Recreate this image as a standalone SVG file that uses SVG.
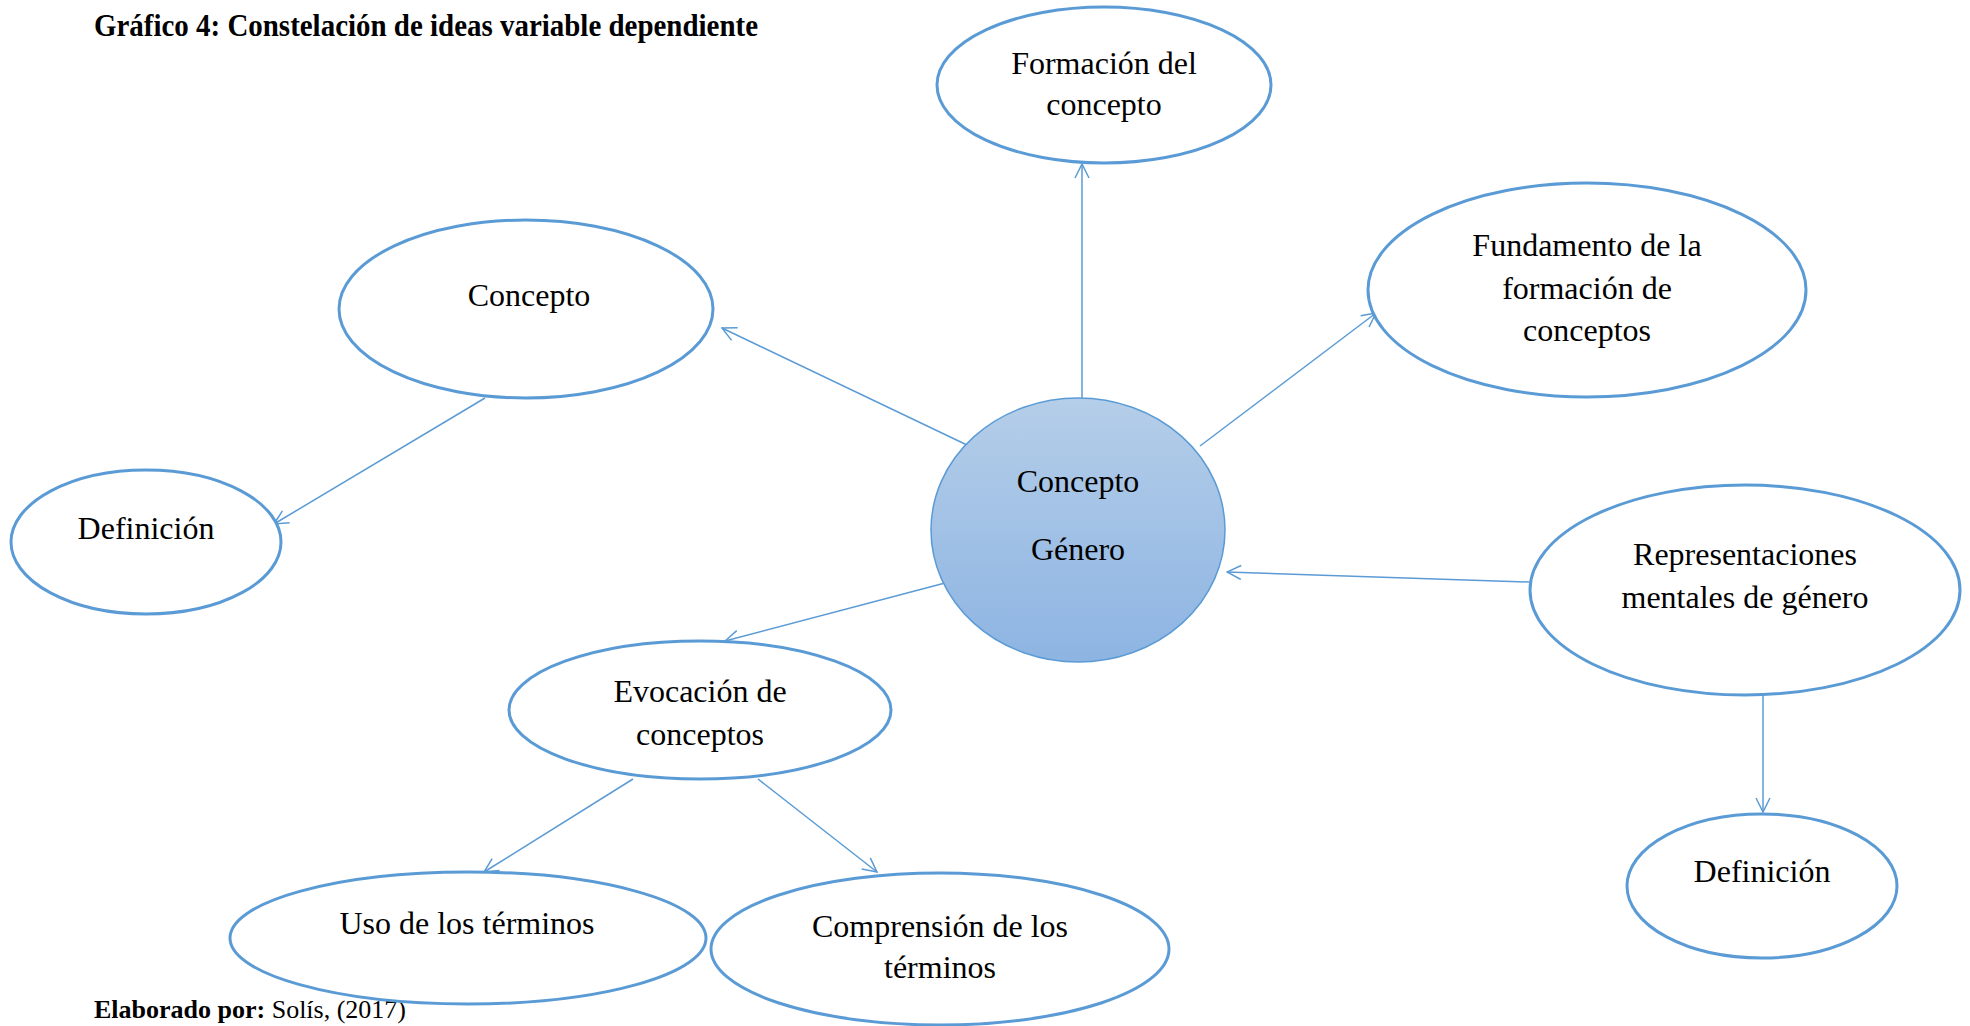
<svg xmlns="http://www.w3.org/2000/svg" width="1970" height="1026" viewBox="0 0 1970 1026">
<style>
.node{fill:#ffffff;stroke:#5b9bd5;stroke-width:3}
.lbl{font-family:"Liberation Serif","Times New Roman",serif;font-size:32px;fill:#000;text-anchor:middle}
.conn{stroke:#5b9bd5;stroke-width:1.5;fill:none;marker-end:url(#arr)}
.cap{font-family:"Liberation Serif","Times New Roman",serif;fill:#000}
</style>
<defs>
<marker id="arr" viewBox="0 0 16 16" refX="15" refY="8" markerWidth="16" markerHeight="16" markerUnits="userSpaceOnUse" orient="auto">
<path d="M1,1 L15,8 L1,15" fill="none" stroke="#5b9bd5" stroke-width="1.5"/>
</marker>
<linearGradient id="grad" x1="0" y1="0" x2="0" y2="1">
<stop offset="0" stop-color="#b5cee9"/>
<stop offset="1" stop-color="#8db4e2"/>
</linearGradient>
</defs>
<text class="cap" x="94" y="36" font-size="32" font-weight="bold" textLength="664" lengthAdjust="spacingAndGlyphs">Gráfico 4: Constelación de ideas variable dependiente</text>
<text class="cap" x="94" y="1018" font-size="26"><tspan font-weight="bold">Elaborado por:</tspan> Solís, (2017)</text>
<g id="connectors">
<line class="conn" x1="1082" y1="398" x2="1082" y2="164"/>
<line class="conn" x1="967" y1="445" x2="722" y2="328"/>
<line class="conn" x1="1200" y1="446" x2="1376" y2="313"/>
<line class="conn" x1="485" y1="398" x2="274" y2="524"/>
<line class="conn" x1="1529" y1="582" x2="1227" y2="572"/>
<line class="conn" x1="945" y1="583" x2="725" y2="641"/>
<line class="conn" x1="633" y1="779" x2="484" y2="872"/>
<line class="conn" x1="758" y1="779" x2="877" y2="872"/>
<line class="conn" x1="1763" y1="695" x2="1763" y2="812"/>
</g>
<g id="central">
<ellipse cx="1078" cy="530" rx="147" ry="132" fill="url(#grad)" stroke="#5b9bd5" stroke-width="1.5"/>
<text class="lbl" x="1078" y="492">Concepto</text>
<text class="lbl" x="1078" y="560">Género</text>
</g>
<g id="formacion">
<ellipse class="node" cx="1104" cy="85" rx="167" ry="78"/>
<text class="lbl" x="1104" y="74">Formación del</text>
<text class="lbl" x="1104" y="115">concepto</text>
</g>
<g id="concepto">
<ellipse class="node" cx="526" cy="309" rx="187" ry="89"/>
<text class="lbl" x="529" y="306">Concepto</text>
</g>
<g id="fundamento">
<ellipse class="node" cx="1587" cy="290" rx="219" ry="107"/>
<text class="lbl" x="1587" y="256">Fundamento de la</text>
<text class="lbl" x="1587" y="299">formación de</text>
<text class="lbl" x="1587" y="341">conceptos</text>
</g>
<g id="definicion1">
<ellipse class="node" cx="146" cy="542" rx="135" ry="72"/>
<text class="lbl" x="146" y="539">Definición</text>
</g>
<g id="representaciones">
<ellipse class="node" cx="1745" cy="590" rx="215" ry="105"/>
<text class="lbl" x="1745" y="565">Representaciones</text>
<text class="lbl" x="1745" y="608">mentales de género</text>
</g>
<g id="definicion2">
<ellipse class="node" cx="1762" cy="886" rx="135" ry="72"/>
<text class="lbl" x="1762" y="882">Definición</text>
</g>
<g id="evocacion">
<ellipse class="node" cx="700" cy="710" rx="191" ry="69"/>
<text class="lbl" x="700" y="702">Evocación de</text>
<text class="lbl" x="700" y="745">conceptos</text>
</g>
<g id="uso">
<ellipse class="node" cx="468" cy="938" rx="238" ry="66"/>
<text class="lbl" x="467" y="934">Uso de los términos</text>
</g>
<g id="comprension">
<ellipse class="node" cx="940" cy="949" rx="229" ry="76"/>
<text class="lbl" x="940" y="937">Comprensión de los</text>
<text class="lbl" x="940" y="978">términos</text>
</g>
</svg>
